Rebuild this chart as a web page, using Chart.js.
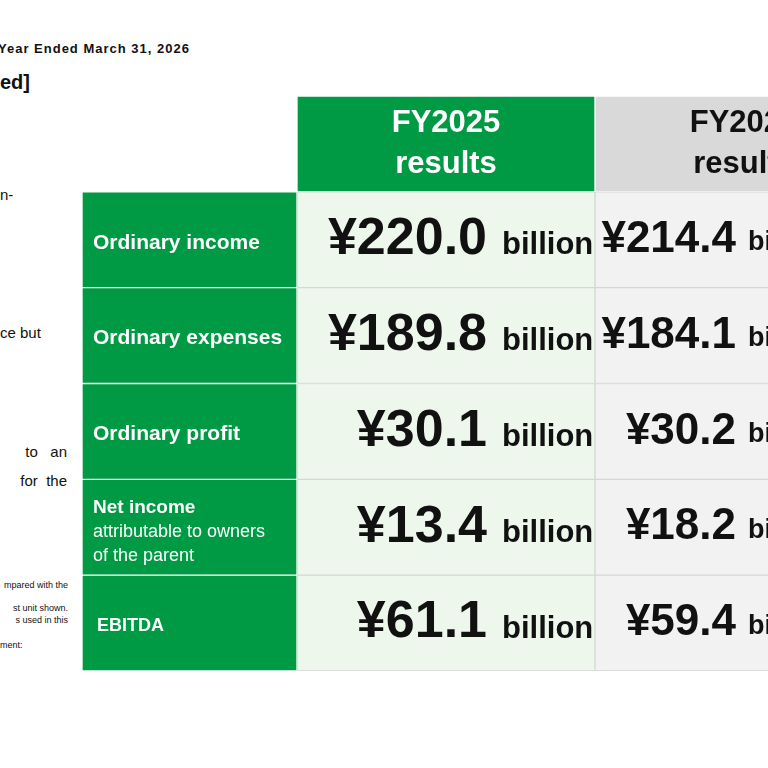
<!DOCTYPE html>
<html>
<head>
<meta charset="utf-8">
<script src="https://cdn.jsdelivr.net/npm/chart.js@4/dist/chart.umd.min.js"></script>
<style>
  html, body { margin: 0; padding: 0; width: 768px; height: 768px; overflow: hidden; background: #fff;
    font-family: "Liberation Sans", Arial, sans-serif; color: #111; }
  .t { position: absolute; white-space: nowrap; }
  #wrap { position: absolute; left: 82px; top: 96px; }
</style>
</head>
<body>
<div class="t" style="left:-2px;top:41px;font-size:13px;font-weight:bold;letter-spacing:1px;">Year Ended March 31, 2026</div>
<div class="t" style="left:0;top:71px;font-size:20px;font-weight:bold;">ed]</div>
<div class="t" style="left:0;top:186px;font-size:15px;">n-</div>
<div class="t" style="left:0;top:324px;font-size:15px;">ce but</div>
<div class="t" style="left:0;top:443px;font-size:15px;width:67px;text-align:right;">to&nbsp;&nbsp;&nbsp;an</div>
<div class="t" style="left:0;top:472px;font-size:15px;width:67px;text-align:right;">for&nbsp;&nbsp;the</div>
<div class="t" style="left:0;top:580px;font-size:9px;width:68px;text-align:right;">mpared with the</div>
<div class="t" style="left:0;top:603px;font-size:9px;width:68px;text-align:right;">st unit shown.</div>
<div class="t" style="left:0;top:615px;font-size:9px;width:68px;text-align:right;">s used in this</div>
<div class="t" style="left:0;top:640px;font-size:9px;">ment:</div>
<div id="wrap"><canvas id="tbl" width="811" height="575"></canvas></div>
<script>
// table content
const rowKeys = ["header", "ordIncome", "ordExpenses", "ordProfit", "netIncome", "ebitda"];
const rowLabels = [[], ["Ordinary income"], ["Ordinary expenses"], ["Ordinary profit"],
  ["Net income", "attributable to owners", "of the parent"], ["EBITDA"]];
const columnHeaders = [["", ""], ["FY2025", "results"], ["FY2024", "results"]];
const fy2025Values = ["", "¥220.0", "¥189.8", "¥30.1", "¥13.4", "¥61.1"];
const fy2024Values = ["", "¥214.4", "¥184.1", "¥30.2", "¥18.2", "¥59.4"];
const unit = "billion";

// layout (column widths in px, scale is 1 unit = 1 px)
const colWidths = [215, 298, 298];
const total = colWidths.reduce((a, b) => a + b, 0);

const GREEN = "#009a44";
const colFills = [
  rowKeys.map((k, i) => i === 0 ? "rgba(0,0,0,0)" : GREEN),
  rowKeys.map((k, i) => i === 0 ? GREEN : "#eef7ec"),
  rowKeys.map((k, i) => i === 0 ? "#d9d9d9" : "#f2f2f2")
];
const colBorders = [
  rowKeys.map((k, i) => i === 0 ? "rgba(0,0,0,0)" : "rgba(255,255,255,0.55)"),
  rowKeys.map((k, i) => i === 0 ? "rgba(255,255,255,0.6)" : "#d6d6d6"),
  rowKeys.map((k, i) => i === 0 ? "#ffffff" : "#d6d6d6")
];

const textPlugin = {
  id: "cellText",
  afterDatasetsDraw(chart) {
    const ctx = chart.ctx;
    const font = (w, s) => `${w} ${s}px "Liberation Sans", Arial, sans-serif`;
    ctx.save();
    ctx.textBaseline = "middle";
    const labelBars = chart.getDatasetMeta(0).data;
    const c25 = chart.getDatasetMeta(1).data;
    const c24 = chart.getDatasetMeta(2).data;

    // headers
    [c25, c24].forEach((bars, j) => {
      const b = bars[0];
      const cx = (b.base + b.x) / 2;
      ctx.fillStyle = j === 0 ? "#fff" : "#111";
      ctx.font = font("bold", 31);
      ctx.textAlign = "center";
      ctx.fillText(columnHeaders[j + 1][0], cx, b.y - 20);
      ctx.fillText(columnHeaders[j + 1][1], cx, b.y + 21);
    });

    for (let i = 1; i < rowKeys.length; i++) {
      const lb = labelBars[i];
      const lines = rowLabels[i];
      ctx.fillStyle = "#fff";
      ctx.textAlign = "left";
      if (lines.length === 1) {
        const isE = rowKeys[i] === "ebitda";
        ctx.font = font("bold", isE ? 18 : 21);
        ctx.fillText(lines[0], lb.base + (isE ? 15 : 11), lb.y + 3);
      } else {
        ctx.font = font("bold", 19);
        ctx.fillText(lines[0], lb.base + 11, lb.y - 19);
        ctx.font = font("normal", 18);
        ctx.fillText(lines[1], lb.base + 11, lb.y + 5);
        ctx.fillText(lines[2], lb.base + 11, lb.y + 29);
      }
      // FY2025: large figures, right aligned
      let b = c25[i];
      ctx.fillStyle = "#111";
      ctx.textAlign = "right";
      ctx.font = font("bold", 52);
      ctx.fillText(fy2025Values[i], b.x - 108, b.y);
      ctx.font = font("bold", 31);
      ctx.textAlign = "left";
      ctx.fillText(unit, b.x - 93, b.y + 6);
      // FY2024: smaller figures
      b = c24[i];
      ctx.textAlign = "right";
      ctx.font = font("bold", 44);
      ctx.fillText(fy2024Values[i], b.base + 141, b.y);
      ctx.font = font("bold", 27);
      ctx.textAlign = "left";
      ctx.fillText(unit, b.base + 153, b.y + 3);
    }
    ctx.restore();
  }
};

new Chart(document.getElementById("tbl"), {
  type: "bar",
  data: {
    labels: rowKeys,
    datasets: colWidths.map((w, j) => ({
      data: rowKeys.map(() => w),
      backgroundColor: colFills[j],
      borderColor: colBorders[j],
      borderWidth: 1,
      borderSkipped: false,
      barPercentage: 1,
      categoryPercentage: 1
    }))
  },
  options: {
    indexAxis: "y",
    responsive: false,
    animation: false,
    layout: { padding: 0 },
    plugins: { legend: { display: false }, tooltip: { enabled: false } },
    scales: {
      x: { stacked: true, min: 0, max: total, display: false },
      y: { stacked: true, display: false }
    }
  },
  plugins: [textPlugin]
});
</script>
</body>
</html>
